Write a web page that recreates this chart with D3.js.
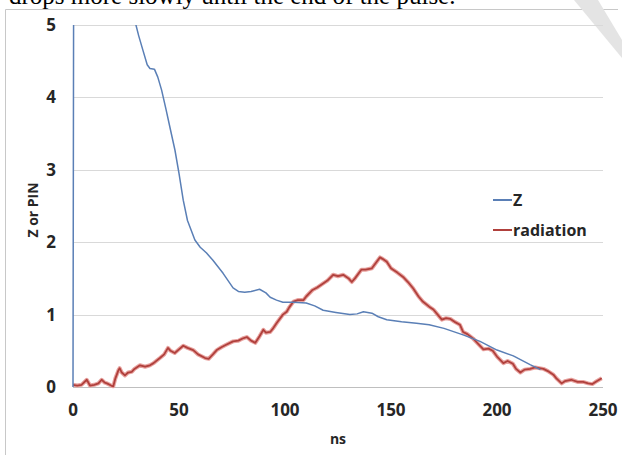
<!DOCTYPE html>
<html>
<head>
<meta charset="utf-8">
<script src="https://cdn.jsdelivr.net/npm/d3@7"></script>
<style>
  body { margin: 0; background: #fff; }
  .tick-label { font-family: "Open Sans", sans-serif; font-weight: bold; font-size: 17px; fill: #262626; }
  .axis-title { font-family: "Open Sans", sans-serif; font-weight: bold; font-size: 14px; fill: #262626; }
  .legend-text { font-family: "Open Sans", sans-serif; font-weight: bold; font-size: 16px; fill: #262626; }
</style>
</head>
<body>
<div id="chart"></div>
<script>
// Z series (null = off scale, gap in the line)
const zTime  = [0, 0.3, 15, 28.8, 29.7, 31, 33, 35, 36.3, 38.4, 40, 41.8, 43.9, 46, 48.1, 50, 52, 54, 57.5, 60, 63, 66, 70.8, 75.5, 78, 81, 84, 88, 91, 93, 96, 99, 104, 110, 114, 118, 124, 130.6, 134, 137, 141, 144, 148, 155, 162, 168, 175, 184, 192, 200, 207.7, 215.6, 220.5];
const zValue = [0, 5.5, null, 5.2, 5.0, 4.85, 4.65, 4.45, 4.40, 4.39, 4.28, 4.10, 3.83, 3.55, 3.27, 2.95, 2.58, 2.3, 2.03, 1.93, 1.85, 1.75, 1.57, 1.37, 1.32, 1.31, 1.32, 1.35, 1.30, 1.24, 1.20, 1.17, 1.17, 1.16, 1.12, 1.06, 1.03, 1.00, 1.01, 1.04, 1.02, 0.97, 0.93, 0.90, 0.88, 0.86, 0.81, 0.72, 0.63, 0.51, 0.43, 0.31, 0.24];

// radiation series
const radTime  = [0, 2, 4, 6.5, 8, 10, 12, 13.5, 15, 16, 18, 19, 20, 21.4, 22, 23, 24.5, 26, 27.7, 29, 31.6, 34, 36.3, 38, 41, 43, 44.8, 46, 48, 50, 52, 54, 56.7, 59, 62.3, 64, 66, 67.8, 70, 72, 75.5, 78, 80, 82, 84, 86, 88, 89.8, 91, 93, 94.4, 96, 99, 100.8, 102, 104, 106, 108.7, 110, 113, 115, 118, 120, 122.7, 125, 127.5, 130, 131.5, 133, 136, 138, 141, 143, 144.8, 146, 148, 150, 151, 153, 155.7, 158, 160.5, 163, 165, 168, 170, 172, 174, 176, 178, 180, 182.5, 184, 186, 188.7, 191, 193.6, 196, 198, 200, 203, 205, 207.5, 209, 211, 213, 215.6, 218, 221.9, 224, 226.6, 228, 230.5, 232, 235, 238, 240.6, 243, 245, 247, 249.4];
const radValue = [0.03, 0.02, 0.03, 0.1, 0.02, 0.03, 0.05, 0.1, 0.06, 0.05, 0.02, 0.01, 0.12, 0.23, 0.26, 0.2, 0.16, 0.2, 0.21, 0.25, 0.30, 0.28, 0.30, 0.33, 0.40, 0.45, 0.54, 0.50, 0.47, 0.52, 0.57, 0.54, 0.51, 0.45, 0.40, 0.39, 0.45, 0.51, 0.55, 0.58, 0.63, 0.64, 0.67, 0.69, 0.64, 0.61, 0.70, 0.79, 0.75, 0.76, 0.81, 0.88, 1.00, 1.04, 1.10, 1.18, 1.20, 1.20, 1.25, 1.34, 1.37, 1.43, 1.47, 1.55, 1.53, 1.55, 1.50, 1.45, 1.50, 1.62, 1.62, 1.64, 1.72, 1.79, 1.77, 1.73, 1.64, 1.62, 1.58, 1.52, 1.45, 1.36, 1.25, 1.18, 1.11, 1.07, 1.00, 0.93, 0.95, 0.94, 0.90, 0.86, 0.76, 0.73, 0.67, 0.60, 0.52, 0.53, 0.50, 0.42, 0.33, 0.36, 0.32, 0.25, 0.20, 0.24, 0.25, 0.27, 0.25, 0.22, 0.17, 0.12, 0.05, 0.08, 0.10, 0.07, 0.07, 0.05, 0.04, 0.08, 0.12];

const xTicks = [0, 50, 100, 150, 200, 250];
const yTicks = [0, 1, 2, 3, 4, 5];
const seriesNames = ["Z", "radiation"];
const seriesColors = ["#5a7fb6", "#b0403c"];

const W = 622, H = 455;
const margin = {top: 25, right: 19, bottom: 68, left: 73};
const width = W - margin.left - margin.right;
const height = H - margin.top - margin.bottom;

const svg = d3.select("#chart").append("svg")
    .attr("width", W)
    .attr("height", H);

// page remnants: text line cut at top, frame, fold
svg.append("text")
    .attr("x", 9)
    .attr("y", 4)
    .style("font-family", "'Liberation Serif', serif")
    .style("font-size", "25px")
    .attr("fill", "#000")
    .text("drops more slowly until the end of the pulse.");

svg.append("path")
    .attr("d", "M5.5,455 V9.5 H618")
    .attr("fill", "none")
    .attr("stroke", "#c8c8c8");

svg.append("polygon")
    .attr("points", "574,0 598,0 622,40 622,58")
    .attr("fill", "#e4e4e4");

const chart = svg.append("g")
    .attr("transform", `translate(${margin.left},${margin.top})`);

const x = d3.scaleLinear().domain([0, 250]).range([0, width]);
const y = d3.scaleLinear().domain([0, 5]).range([height, 0]);

// gridlines
chart.append("g")
    .selectAll("line")
    .data(yTicks)
    .join("line")
    .attr("x1", 0)
    .attr("x2", width)
    .attr("y1", d => Math.round(y(d)) + 0.5)
    .attr("y2", d => Math.round(y(d)) + 0.5)
    .attr("stroke", d => d === 0 ? "#bfbfbf" : "#d9d9d9");

// y labels
chart.append("g")
    .selectAll("text")
    .data(yTicks)
    .join("text")
    .attr("class", "tick-label")
    .attr("x", -17)
    .attr("y", d => y(d))
    .attr("dy", "0.35em")
    .attr("text-anchor", "end")
    .text(d => d);

// x labels
chart.append("g")
    .selectAll("text")
    .data(xTicks)
    .join("text")
    .attr("class", "tick-label")
    .attr("x", d => x(d))
    .attr("y", height + 23)
    .attr("dy", "0.35em")
    .attr("text-anchor", "middle")
    .text(d => d);

chart.append("text")
    .attr("class", "axis-title")
    .attr("x", width / 2)
    .attr("y", height + 52)
    .attr("dy", "0.35em")
    .attr("text-anchor", "middle")
    .text("ns");

svg.append("text")
    .attr("class", "axis-title")
    .attr("transform", "translate(33,210) rotate(-90)")
    .attr("dy", "0.35em")
    .attr("text-anchor", "middle")
    .text("Z or PIN");

// clip to plot area
svg.append("defs").append("clipPath")
    .attr("id", "plot-clip")
    .append("rect")
    .attr("x", -2)
    .attr("y", 0)
    .attr("width", width + 4)
    .attr("height", height + 2);

const plot = chart.append("g").attr("clip-path", "url(#plot-clip)");

const zData = zTime.map((t, i) => ({t: t, v: zValue[i]}));
const radData = radTime.map((t, i) => ({t: t, v: radValue[i]}));

const line = d3.line()
    .defined(d => d.v !== null)
    .x(d => x(d.t))
    .y(d => y(d.v));

// radiation: soft halo + core
plot.append("path")
    .datum(radData)
    .attr("d", line)
    .attr("fill", "none")
    .attr("stroke", "#e8a3a0")
    .attr("stroke-width", 4)
    .attr("stroke-linejoin", "round");

plot.append("path")
    .datum(radData)
    .attr("d", line)
    .attr("fill", "none")
    .attr("stroke", seriesColors[1])
    .attr("stroke-width", 1.8)
    .attr("stroke-linejoin", "round");

plot.append("path")
    .datum(zData)
    .attr("d", line)
    .attr("fill", "none")
    .attr("stroke", seriesColors[0])
    .attr("stroke-width", 1.5)
    .attr("stroke-linejoin", "round");

// legend
const legend = svg.append("g")
    .attr("transform", "translate(493,200)");

const items = legend.selectAll("g")
    .data(seriesNames)
    .join("g")
    .attr("transform", (d, i) => `translate(0,${i * 30})`);

items.append("line")
    .attr("x1", 0)
    .attr("x2", 19)
    .attr("stroke", (d, i) => seriesColors[i])
    .attr("stroke-width", 2);

items.append("text")
    .attr("class", "legend-text")
    .attr("x", 20)
    .attr("dy", "0.35em")
    .text(d => d);
</script>
</body>
</html>
